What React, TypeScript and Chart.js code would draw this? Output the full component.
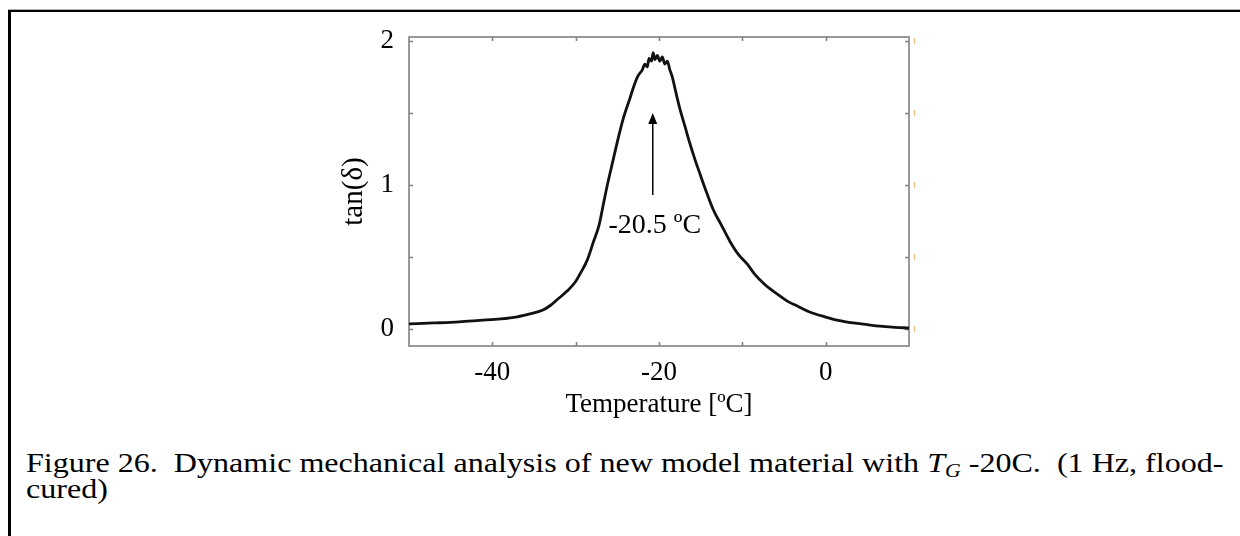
import React, { useEffect, useRef } from "react";
import { Chart, registerables } from "chart.js";

Chart.register(...registerables);

// ---- data ----
const temperature = [
  -50, -47, -44, -41.5, -39, -37, -35.5, -34, -33, -32.2, -31, -30, -29.5, -28.6,
  -27.9, -27.2, -26.7, -26.2, -25.6, -25.0, -24.3, -23.5, -23.0, -22.5, -22.0,
  -21.7, -21.4, -21.2, -20.9, -20.7, -20.5, -20.2, -19.9, -19.6, -19.3, -19.0,
  -18.7, -18.4, -18.0, -17.5, -16.9, -16.3, -15.7, -15.1, -14.3, -13.5, -12.5,
  -11.5, -10.5, -9.4, -8.5, -7.5, -6.7, -5.5, -4.5, -3.4, -2, 0, 1.5, 3.3, 5,
  6.5, 8, 10,
];
const tanDelta = [
  0.035, 0.042, 0.05, 0.06, 0.07, 0.085, 0.105, 0.13, 0.165, 0.205, 0.265, 0.33,
  0.38, 0.48, 0.6, 0.72, 0.86, 1.0, 1.15, 1.3, 1.46, 1.6, 1.69, 1.76, 1.8, 1.84,
  1.82, 1.88, 1.86, 1.92, 1.87, 1.9, 1.86, 1.89, 1.84, 1.86, 1.8, 1.75, 1.65,
  1.53, 1.41, 1.29, 1.18, 1.08, 0.95, 0.83, 0.72, 0.61, 0.52, 0.45, 0.38, 0.32,
  0.28, 0.23, 0.19, 0.16, 0.12, 0.083, 0.06, 0.042, 0.03, 0.02, 0.013, 0.007,
];

const xTickValues = [-40, -30, -20, -10, 0];
const xTickLabels = ["-40", "", "-20", "", "0"];
const yTickValues = [0, 0.5, 1, 1.5, 2];
const yTickLabels = ["0", "", "1", "", "2"];

const xRange = [-50, 10];
const yRange = [-0.118, 2.028];

const xTitle = "Temperature [ºC]";
const yTitle = "tan(δ)";

const peakText = "-20.5 ºC";
const peakTextAt = [-20.5, 0.72];
const peakArrowX = -20.75;
const peakArrowFromTo = [0.93, 1.5];

const FONT = '"Liberation Serif", "Times New Roman", serif';
const CAPTION_SCALE = 1.21;

const framePlugin = {
  id: "frameTicks",
  beforeDatasetsDraw(chart: any) {
    const { ctx, chartArea: a, scales } = chart;
    const x = scales.x;
    const y = scales.y;
    ctx.save();
    ctx.strokeStyle = "#808080";
    ctx.lineWidth = 1.6;
    ctx.strokeRect(a.left, a.top, a.right - a.left, a.bottom - a.top);
    ctx.beginPath();
    for (const v of xTickValues) {
      const px = Math.round(x.getPixelForValue(v)) + 0.5;
      ctx.moveTo(px, a.bottom);
      ctx.lineTo(px, a.bottom - 4);
      ctx.moveTo(px, a.top);
      ctx.lineTo(px, a.top + 4);
    }
    for (const v of yTickValues) {
      const py = Math.round(y.getPixelForValue(v)) + 0.5;
      ctx.moveTo(a.left, py);
      ctx.lineTo(a.left + 4, py);
      ctx.moveTo(a.right, py);
      ctx.lineTo(a.right - 4, py);
    }
    ctx.stroke();
    ctx.strokeStyle = "#f3b77a";
    ctx.lineWidth = 1;
    ctx.beginPath();
    for (const v of yTickValues) {
      const py = y.getPixelForValue(v);
      ctx.moveTo(a.right + 5.5, py - 3);
      ctx.lineTo(a.right + 5.5, py + 3);
    }
    ctx.stroke();
    ctx.restore();
  },
  afterDatasetsDraw(chart: any) {
    const { ctx, scales } = chart;
    const x = scales.x;
    const y = scales.y;
    ctx.save();
    const ax = x.getPixelForValue(peakArrowX);
    const y0 = y.getPixelForValue(peakArrowFromTo[0]);
    const y1 = y.getPixelForValue(peakArrowFromTo[1]);
    ctx.strokeStyle = "#000";
    ctx.fillStyle = "#000";
    ctx.lineWidth = 1.5;
    ctx.beginPath();
    ctx.moveTo(ax, y0);
    ctx.lineTo(ax, y1 + 8);
    ctx.stroke();
    ctx.beginPath();
    ctx.moveTo(ax, y1);
    ctx.lineTo(ax - 4.5, y1 + 11);
    ctx.lineTo(ax + 4.5, y1 + 11);
    ctx.closePath();
    ctx.fill();
    ctx.font = `28px ${FONT}`;
    ctx.textAlign = "center";
    ctx.textBaseline = "middle";
    ctx.fillText(
      peakText,
      x.getPixelForValue(peakTextAt[0]),
      y.getPixelForValue(peakTextAt[1])
    );
    ctx.restore();
  },
};

function DmaChart() {
  const ref = useRef<HTMLCanvasElement | null>(null);
  useEffect(() => {
    if (!ref.current) return;
    const points = temperature.map((t, i) => ({ x: t, y: tanDelta[i] }));
    const chart = new Chart(ref.current, {
      type: "line",
      data: {
        datasets: [
          {
            data: points,
            borderColor: "#111111",
            borderWidth: 2.8,
            pointRadius: 0,
            cubicInterpolationMode: "monotone",
            fill: false,
          },
        ],
      },
      options: {
        animation: false,
        responsive: false,
        devicePixelRatio: 1,
        layout: { padding: { left: 0, top: 37, right: 331, bottom: 0 } },
        plugins: {
          legend: { display: false },
          tooltip: { enabled: false },
        },
        scales: {
          x: {
            type: "linear",
            position: "bottom",
            min: xRange[0],
            max: xRange[1],
            grid: { display: false, drawTicks: false },
            border: { display: false },
            afterBuildTicks: (s: any) => {
              s.ticks = xTickValues.map((v) => ({ value: v }));
            },
            afterFit: (s: any) => {
              s.height = 94;
            },
            ticks: {
              autoSkip: false,
              maxRotation: 0,
              padding: 11,
              color: "#000",
              font: { family: FONT, size: 27 },
              callback: (v: any) => {
                const i = xTickValues.indexOf(Number(v));
                return i >= 0 ? xTickLabels[i] : "";
              },
            },
            title: {
              display: true,
              text: xTitle,
              color: "#000",
              font: { family: FONT, size: 27 },
              padding: { top: 0, bottom: 19 },
            },
          },
          y: {
            type: "linear",
            position: "left",
            min: yRange[0],
            max: yRange[1],
            grid: { display: false, drawTicks: false },
            border: { display: false },
            afterBuildTicks: (s: any) => {
              s.ticks = yTickValues.map((v) => ({ value: v }));
            },
            afterFit: (s: any) => {
              s.width = 409;
            },
            ticks: {
              autoSkip: false,
              padding: 15,
              color: "#000",
              font: { family: FONT, size: 27 },
              callback: (v: any) => {
                const i = yTickValues.indexOf(Number(v));
                return i >= 0 ? yTickLabels[i] : "";
              },
            },
            title: {
              display: true,
              text: yTitle,
              color: "#000",
              font: { family: FONT, size: 29 },
              padding: { top: 337, bottom: 0 },
            },
          },
        },
      },
      plugins: [framePlugin],
    });
    return () => chart.destroy();
  }, []);
  return (
    <canvas
      ref={ref}
      width={1240}
      height={440}
      style={{ position: "absolute", left: 0, top: 0 }}
    />
  );
}

export default function App() {
  return (
    <div
      style={{
        position: "absolute",
        left: 0,
        top: 0,
        width: 1240,
        height: 536,
        background: "#fff",
        overflow: "hidden",
      }}
    >
      <div style={{ position: "absolute", left: 8, top: 9, width: 1232, height: 1, background: "#b0b0b0" }} />
      <div style={{ position: "absolute", left: 8, top: 10, width: 1232, height: 2, background: "#000" }} />
      <div style={{ position: "absolute", left: 8, top: 10, width: 2.5, height: 526, background: "#000" }} />
      <DmaChart />
      <div
        style={{
          position: "absolute",
          left: 26,
          top: 450,
          fontFamily: FONT,
          fontSize: 26.5,
          lineHeight: "26px",
          whiteSpace: "pre",
          color: "#000",
          transform: `scaleX(${CAPTION_SCALE})`,
          transformOrigin: "0 0",
        }}
      >
        {"Figure 26.  Dynamic mechanical analysis of new model material with "}
        <i>
          T<sub style={{ fontSize: "0.68em", verticalAlign: "-0.25em", lineHeight: 0 }}>G</sub>
        </i>
        {" -20C.  (1 Hz, flood-"}
        <br />
        {"cured)"}
      </div>
    </div>
  );
}
